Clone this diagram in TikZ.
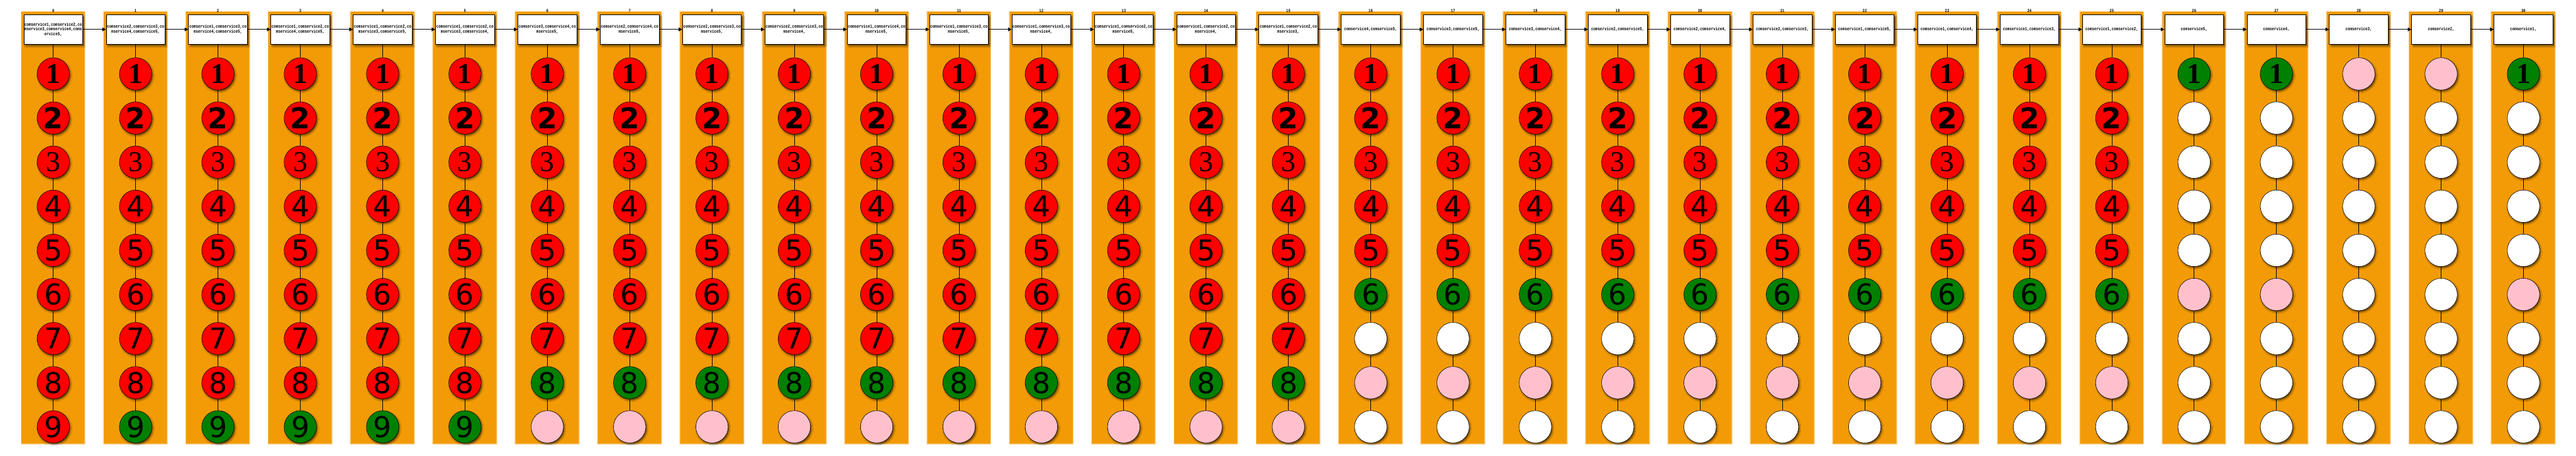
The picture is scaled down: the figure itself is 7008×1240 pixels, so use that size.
\documentclass[tikz,border=0pt]{standalone}
\usepackage{fontspec}
\usetikzlibrary{shadows.blur,arrows.meta}
\newfontfamily\boxfont[FakeStretch=0.8]{Liberation Mono}
\newfontfamily\serifdig{Liberation Serif}
\newfontfamily\sansdig{DejaVu Sans}
\definecolor{bandorange}{RGB}{243,155,6}
\definecolor{c1}{RGB}{255,0,0}
\definecolor{c2}{RGB}{0,128,0}
\definecolor{c3}{RGB}{255,192,203}
\definecolor{c4}{RGB}{255,255,255}
\newcommand\dignum[1]{\ifcase#1\or{\serifdig\bfseries 1}\or{\sansdig\bfseries 2}\or{\serifdig 3}\or{\sansdig 4}\or{\sansdig 5}\or{\sansdig 6}\or{\sansdig 7}\or{\sansdig 8}\or{\sansdig 9}\fi}
\newcommand\stcolumn[3]{%
  \pgfmathsetmacro\colx{145+224*#1}
  \fill[bandfade2] (\colx-89,30) rectangle (\colx+88,1210);
  \fill[bandfade1] (\colx-87.5,31.5) rectangle (\colx+86.5,1208.5);
  \fill[band] (\colx-86,33) rectangle (\colx+85,1207);
  \node[svcbox] (b#1) at (\colx,80) {#2};
  \node[collabel] (l#1) at (\colx,30) {#1};
  \foreach \s [count=\k] in {#3} {
    \node[ball, fill=c\s] (n#1-\k) at (\colx,81+120*\k) {\ifnum\s<3 \dignum{\k}\fi};
  }
  \draw[link] (b#1) -- (n#1-1);
  \foreach \k in {1,...,8} {\pgfmathtruncatemacro\nk{\k+1}\draw[link] (n#1-\k) -- (n#1-\nk);}
}
\tikzset{
  band/.style={fill=bandorange},
  bandfade1/.style={fill=bandorange!65},
  bandfade2/.style={fill=bandorange!30},
  svcbox/.style={draw, line width=0.7pt, fill=white, minimum width=80pt, minimum height=40pt,
    inner sep=0pt, align=center, font=\boxfont\bfseries\fontsize{6.25}{6.5}\selectfont,
    blur shadow={shadow xshift=2pt, shadow yshift=-2.5pt, shadow blur radius=2pt, shadow opacity=55}},
  collabel/.style={inner sep=0pt, font=\boxfont\bfseries\fontsize{6}{6}\selectfont},
  ball/.style={circle, draw, line width=0.5pt, minimum size=44pt, inner sep=0pt,
    font=\fontsize{39}{39}\selectfont,
    blur shadow={shadow xshift=1.5pt, shadow yshift=-2pt, shadow blur radius=2pt, shadow opacity=60}},
  link/.style={line width=0.5pt},
  flow/.style={line width=0.75pt, -{Triangle[length=5pt,width=5pt]}}
}
\begin{document}
\begin{tikzpicture}[x=0.5pt,y=-0.5pt]
\useasboundingbox (0,0) rectangle (7008,1240);
\stcolumn{0}{comservice1,comservice2,co\\mservice3,comservice4,coms\\ervice5,}{1,1,1,1,1,1,1,1,1}
\stcolumn{1}{comservice2,comservice3,co\\mservice4,comservice5,}{1,1,1,1,1,1,1,1,2}
\stcolumn{2}{comservice1,comservice3,co\\mservice4,comservice5,}{1,1,1,1,1,1,1,1,2}
\stcolumn{3}{comservice1,comservice2,co\\mservice4,comservice5,}{1,1,1,1,1,1,1,1,2}
\stcolumn{4}{comservice1,comservice2,co\\mservice3,comservice5,}{1,1,1,1,1,1,1,1,2}
\stcolumn{5}{comservice1,comservice2,co\\mservice3,comservice4,}{1,1,1,1,1,1,1,1,2}
\stcolumn{6}{comservice3,comservice4,co\\mservice5,}{1,1,1,1,1,1,1,2,3}
\stcolumn{7}{comservice2,comservice4,co\\mservice5,}{1,1,1,1,1,1,1,2,3}
\stcolumn{8}{comservice2,comservice3,co\\mservice5,}{1,1,1,1,1,1,1,2,3}
\stcolumn{9}{comservice2,comservice3,co\\mservice4,}{1,1,1,1,1,1,1,2,3}
\stcolumn{10}{comservice1,comservice4,co\\mservice5,}{1,1,1,1,1,1,1,2,3}
\stcolumn{11}{comservice1,comservice3,co\\mservice5,}{1,1,1,1,1,1,1,2,3}
\stcolumn{12}{comservice1,comservice3,co\\mservice4,}{1,1,1,1,1,1,1,2,3}
\stcolumn{13}{comservice1,comservice2,co\\mservice5,}{1,1,1,1,1,1,1,2,3}
\stcolumn{14}{comservice1,comservice2,co\\mservice4,}{1,1,1,1,1,1,1,2,3}
\stcolumn{15}{comservice1,comservice2,co\\mservice3,}{1,1,1,1,1,1,1,2,3}
\stcolumn{16}{comservice4,comservice5,}{1,1,1,1,1,2,4,3,4}
\stcolumn{17}{comservice3,comservice5,}{1,1,1,1,1,2,4,3,4}
\stcolumn{18}{comservice3,comservice4,}{1,1,1,1,1,2,4,3,4}
\stcolumn{19}{comservice2,comservice5,}{1,1,1,1,1,2,4,3,4}
\stcolumn{20}{comservice2,comservice4,}{1,1,1,1,1,2,4,3,4}
\stcolumn{21}{comservice2,comservice3,}{1,1,1,1,1,2,4,3,4}
\stcolumn{22}{comservice1,comservice5,}{1,1,1,1,1,2,4,3,4}
\stcolumn{23}{comservice1,comservice4,}{1,1,1,1,1,2,4,3,4}
\stcolumn{24}{comservice1,comservice3,}{1,1,1,1,1,2,4,3,4}
\stcolumn{25}{comservice1,comservice2,}{1,1,1,1,1,2,4,3,4}
\stcolumn{26}{comservice5,}{2,4,4,4,4,3,4,4,4}
\stcolumn{27}{comservice4,}{2,4,4,4,4,3,4,4,4}
\stcolumn{28}{comservice3,}{3,4,4,4,4,4,4,4,4}
\stcolumn{29}{comservice2,}{3,4,4,4,4,4,4,4,4}
\stcolumn{30}{comservice1,}{2,4,4,4,4,3,4,4,4}
\foreach \i in {0,...,29}{\pgfmathtruncatemacro\j{\i+1}\draw[flow] (b\i.east) -- (b\j.west);}
\end{tikzpicture}
\end{document}
